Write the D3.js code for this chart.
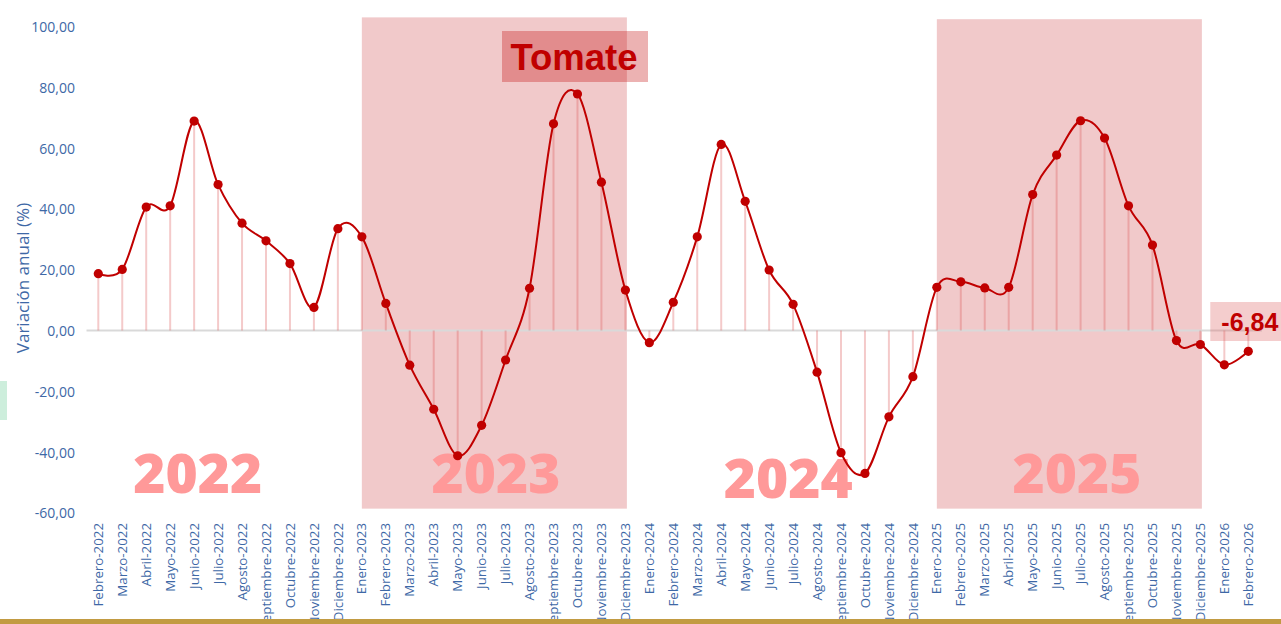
<!DOCTYPE html>
<html>
<head>
<meta charset="utf-8">
<script src="https://cdn.jsdelivr.net/npm/d3@7"></script>
<style>
  html, body { margin: 0; padding: 0; background: #ffffff; }
  svg { display: block; }
</style>
</head>
<body>
<svg id="chart" width="1281" height="624"></svg>
<script>
const months = [
  "Febrero-2022","Marzo-2022","Abril-2022","Mayo-2022","Junio-2022","Julio-2022","Agosto-2022","Septiembre-2022","Octubre-2022","Noviembre-2022","Diciembre-2022",
  "Enero-2023","Febrero-2023","Marzo-2023","Abril-2023","Mayo-2023","Junio-2023","Julio-2023","Agosto-2023","Septiembre-2023","Octubre-2023","Noviembre-2023","Diciembre-2023",
  "Enero-2024","Febrero-2024","Marzo-2024","Abril-2024","Mayo-2024","Junio-2024","Julio-2024","Agosto-2024","Septiembre-2024","Octubre-2024","Noviembre-2024","Diciembre-2024",
  "Enero-2025","Febrero-2025","Marzo-2025","Abril-2025","Mayo-2025","Junio-2025","Julio-2025","Agosto-2025","Septiembre-2025","Octubre-2025","Noviembre-2025","Diciembre-2025",
  "Enero-2026","Febrero-2026"
];
const values = [
  18.7, 20.1, 40.6, 41.0, 68.9, 48.0, 35.3, 29.5, 22.0, 7.6, 33.5,
  30.8, 8.9, -11.4, -25.9, -41.2, -31.2, -9.7, 13.9, 68.0, 77.8, 48.8, 13.3,
  -4.0, 9.3, 30.8, 61.2, 42.5, 19.9, 8.6, -13.7, -40.2, -47.0, -28.4, -15.2,
  14.2, 16.0, 14.0, 14.2, 44.7, 57.7, 69.0, 63.3, 41.0, 28.1, -3.3, -4.6,
  -11.3, -6.84
];
const yTicks = [-60, -40, -20, 0, 20, 40, 60, 80, 100];
const yearLabels = ["2022", "2023", "2024", "2025"];
const shadedYears = [
  { first: "Enero-2023", last: "Diciembre-2023" },
  { first: "Enero-2025", last: "Diciembre-2025" }
];
const title = "Tomate";
const yTitle = "Variación anual (%)";
const lastLabel = "-6,84";

const svg = d3.select("#chart");
const x = d3.scalePoint().domain(months).range([98.3, 1248.3]);
const xi = d3.scaleLinear().domain([0, months.length - 1]).range([98.3, 1248.3]);
const y = d3.scaleLinear().domain([-60, 100]).range([512.9, 26.5]);
const fmt = d => d.toFixed(2).replace(".", ",");

// left green marker (decoration)
svg.append("rect").attr("x", 0).attr("y", 381).attr("width", 7).attr("height", 39).attr("fill", "#cdeedc");

// shaded year boxes
const boxTops = [103, 102.4];
svg.append("g").selectAll("rect").data(shadedYears).join("rect")
  .attr("x", d => x(d.first))
  .attr("width", d => x(d.last) - x(d.first) + 1.5)
  .attr("y", (d, i) => y(boxTops[i]))
  .attr("height", (d, i) => y(-58.6) - y(boxTops[i]))
  .attr("fill", "#f1c9ca");

// year labels
const yearIdx = [4.15, 16.6, 28.8, 40.85];
const yearBase = [493, 493, 498, 493];
svg.append("g").selectAll("text").data(yearLabels).join("text")
  .attr("x", (d, i) => xi(yearIdx[i]))
  .attr("y", (d, i) => yearBase[i])
  .attr("text-anchor", "middle")
  .attr("font-family", "'Open Sans', sans-serif")
  .attr("font-weight", 800)
  .attr("font-size", 55)
  .attr("fill", "#ff9999")
  .text(d => d);

// zero line
svg.append("line")
  .attr("x1", 86.5).attr("x2", 1262)
  .attr("y1", y(0)).attr("y2", y(0))
  .attr("stroke", "#d9d9d9").attr("stroke-width", 2);

// stems
svg.append("g").selectAll("line").data(values).join("line")
  .attr("x1", (d, i) => x(months[i])).attr("x2", (d, i) => x(months[i]))
  .attr("y1", y(0)).attr("y2", d => y(d))
  .attr("stroke", "rgba(220,80,80,0.3)").attr("stroke-width", 2);

// y axis
const yAxis = d3.axisLeft(y).tickValues(yTicks).tickFormat(fmt).tickSize(0).tickPadding(0);
const gy = svg.append("g").attr("transform", "translate(75,0)").call(yAxis);
gy.select(".domain").remove();
gy.selectAll("text")
  .attr("font-family", "'Open Sans', sans-serif")
  .attr("font-size", 14)
  .attr("fill", "#3e68a6")
  .attr("dy", "0.35em");

// y title
svg.append("text")
  .attr("transform", `translate(29,${278}) rotate(-90)`)
  .attr("text-anchor", "middle")
  .attr("font-family", "'Open Sans', sans-serif")
  .attr("font-size", 17)
  .attr("fill", "#3e68a6")
  .text(yTitle);

// x labels
svg.append("g").selectAll("text").data(months).join("text")
  .attr("transform", d => `translate(${x(d)},523) rotate(-90)`)
  .attr("text-anchor", "end")
  .attr("dy", "0.35em")
  .attr("font-family", "'Open Sans', sans-serif")
  .attr("font-size", 13.3)
  .attr("fill", "#3e68a6")
  .text(d => d);

// gold bar
svg.append("rect").attr("x", 0).attr("y", 619).attr("width", 1281).attr("height", 5).attr("fill", "#c29b42");

// line
const line = d3.line()
  .x((d, i) => x(months[i]))
  .y(d => y(d))
  .curve(d3.curveCatmullRom.alpha(0));
svg.append("path").datum(values)
  .attr("d", line)
  .attr("fill", "none")
  .attr("stroke", "#c00000")
  .attr("stroke-width", 2);

// points
svg.append("g").selectAll("circle").data(values).join("circle")
  .attr("cx", (d, i) => x(months[i]))
  .attr("cy", d => y(d))
  .attr("r", 4.6)
  .attr("fill", "#c00000");

// title box
svg.append("rect").attr("x", 502).attr("y", 31).attr("width", 146).attr("height", 51)
  .attr("fill", "rgba(192,0,0,0.3)");
svg.append("text")
  .attr("x", 574).attr("y", 70)
  .attr("text-anchor", "middle")
  .attr("font-family", "'Liberation Sans', Arial, sans-serif")
  .attr("font-weight", 700)
  .attr("font-size", 36.5)
  .attr("fill", "#c00000")
  .text(title);

// last value label
const lastX = x(months[months.length - 1]);
svg.append("rect").attr("x", lastX - 38).attr("y", 302).attr("width", 72).attr("height", 39)
  .attr("fill", "rgba(220,100,100,0.32)");
svg.append("text")
  .attr("x", lastX + 30).attr("y", 331)
  .attr("text-anchor", "end")
  .attr("font-family", "'Liberation Sans', Arial, sans-serif")
  .attr("font-weight", 700)
  .attr("font-size", 25)
  .attr("fill", "#c00000")
  .text(lastLabel);
</script>
</body>
</html>
